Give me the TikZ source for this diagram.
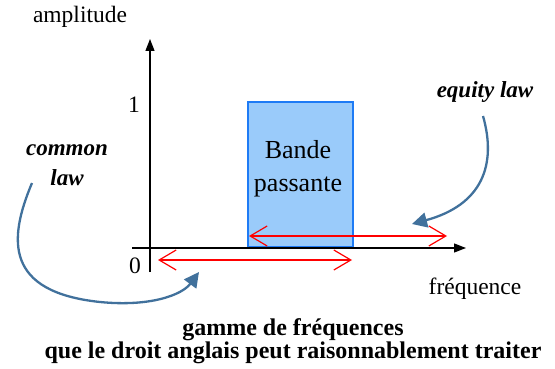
\documentclass[tikz,border=0pt]{standalone}
\usepackage{fontspec}
\setmainfont{Liberation Serif}
\usetikzlibrary{arrows.meta}
\definecolor{bandfill}{HTML}{9ACBFA}
\definecolor{bandline}{HTML}{1E7BF5}
\definecolor{curvecol}{HTML}{41719C}
\tikzset{
  axis/.style={line width=1.3pt, -{Triangle[length=12pt,width=9pt]}},
  redarrow/.style={red, line width=1.2pt, {Straight Barb[length=17pt,width=20pt,line width=1.2pt]}-{Straight Barb[length=17pt,width=20pt,line width=1.2pt]}},
  bluearrow/.style={curvecol, line width=2.3pt, -{Triangle[length=15pt,width=15pt]}},
  lbl/.style={inner sep=0pt, font=\fontsize{23.5}{26}\selectfont},
  emph/.style={inner sep=0pt, align=center, font=\fontsize{23}{30}\selectfont\bfseries\itshape},
  captxt/.style={inner sep=0pt, align=center, font=\fontsize{24}{23}\selectfont\bfseries},
}
\begin{document}
\begin{tikzpicture}[x=1pt,y=-1pt]
\useasboundingbox (0,0) rectangle (555,369);
% band
\node[draw=bandline, line width=2pt, fill=bandfill, minimum width=105pt, minimum height=145pt, inner sep=0pt, anchor=south west] (band) at (247,248) {};
\node[lbl, align=center, font=\fontsize{26}{33}\selectfont] (bandtxt) at (298,169) {Bande\\passante};
% axes
\coordinate (xs) at (132,248);
\coordinate (xe) at (466,248);
\coordinate (ys) at (150,272);
\coordinate (ye) at (150,39);
\draw[axis] (xs) -- (xe);
\draw[axis] (ys) -- (ye);
\node[lbl] (amp) at (80,17) {amplitude};
\node[lbl] (one) at (134,105) {1};
\node[lbl] (zero) at (135,266) {0};
\node[lbl] (freq) at (475,289) {fréquence};
% red arrows
\coordinate (r1a) at (249,236);
\coordinate (r1b) at (447,236);
\coordinate (r2a) at (158,260);
\coordinate (r2b) at (352,260);
\draw[redarrow] (r1a) -- (r1b);
\draw[redarrow] (r2a) -- (r2b);
% labels
\node[emph] (equity) at (485,92) {equity law};
\node[emph] (common) at (67,165) {common\\law};
\coordinate (eqs) at (483,116);
\coordinate (eqe) at (412,224);
\coordinate (cos) at (32,183);
\coordinate (coe) at (199,272);
\draw[bluearrow] (eqs) .. controls (497,165) and (482,205) .. (eqe);
\draw[bluearrow] (cos) .. controls (8,240) and (5,292) .. (100,302) .. controls (150,307) and (182,295) .. (coe);
% caption
\node[captxt] (cap) at (293,341) {gamme de fréquences\\que le droit anglais peut raisonnablement traiter};
\end{tikzpicture}
\end{document}
